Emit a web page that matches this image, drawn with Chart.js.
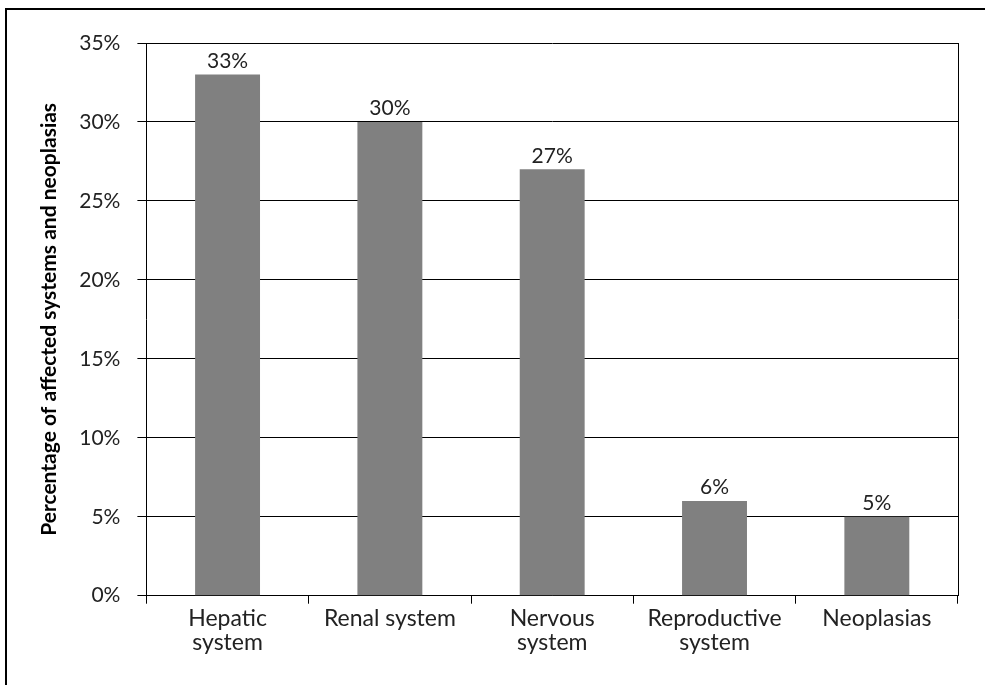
<!DOCTYPE html>
<html>
<head>
<meta charset="utf-8">
<script src="https://cdn.jsdelivr.net/npm/chart.js@4/dist/chart.umd.min.js"></script>
<style>
  html, body { margin: 0; padding: 0; background: #fff; overflow: hidden; }
  #wrap { position: relative; width: 985px; height: 685px; }
  #frame { position: absolute; left: 5px; top: 8px; width: 1000px; height: 1000px;
           border: 2px solid #000; pointer-events: none; }
</style>
</head>
<body>
<div id="wrap">
  <canvas id="myChart" width="985" height="685"></canvas>
  <div id="frame"></div>
</div>
<script>
const categories = [['Hepatic', 'system'], 'Renal system', ['Nervous', 'system'], ['Reproductive', 'system'], 'Neoplasias'];
const values = [33, 30, 27, 6, 5];
const yTicks = [0, 5, 10, 15, 20, 25, 30, 35];

const font = 'Lato, "Open Sans", sans-serif';

// labels over bars
const barLabels = {
    id: 'barLabels',
    afterDatasetsDraw(chart) {
        const ctx = chart.ctx;
        const meta = chart.getDatasetMeta(0);
        ctx.save();
        ctx.fillStyle = '#222';
        ctx.font = '21px ' + font;
        ctx.textAlign = 'center';
        ctx.textBaseline = 'bottom';
        meta.data.forEach((bar, i) => {
            ctx.fillText(values[i] + '%', bar.x, bar.y - 3);
        });
        ctx.restore();
    }
};

// right edge of plot area
const plotEdge = {
    id: 'plotEdge',
    afterDraw(chart) {
        const a = chart.chartArea;
        const ctx = chart.ctx;
        ctx.save();
        ctx.strokeStyle = '#000';
        ctx.lineWidth = 1;
        ctx.beginPath();
        ctx.moveTo(Math.round(a.right) + 0.5, a.top);
        ctx.lineTo(Math.round(a.right) + 0.5, a.bottom);
        ctx.stroke();
        ctx.restore();
    }
};

const ctx = document.getElementById('myChart').getContext('2d');
const chart = new Chart(ctx, {
    type: 'bar',
    data: {
        labels: categories,
        datasets: [{
            data: values,
            backgroundColor: '#808080',
            borderWidth: 0,
            categoryPercentage: 1,
            barPercentage: 0.4
        }]
    },
    options: {
        responsive: false,
        animation: false,
        layout: { padding: { left: 37, top: 43, right: 27, bottom: 27 } },
        plugins: { legend: { display: false }, tooltip: { enabled: false } },
        scales: {
            x: {
                grid: { display: true, drawOnChartArea: false, offset: true, color: '#000', tickLength: 8 },
                border: { color: '#000' },
                ticks: { color: '#222', font: { family: font, size: 23, lineHeight: 1.05 }, padding: 3, maxRotation: 0 }
            },
            y: {
                min: 0,
                max: 35,
                afterBuildTicks(axis) { axis.ticks = yTicks.map(v => ({ value: v })); },
                grid: { color: '#000', tickLength: 9 },
                border: { color: '#000' },
                ticks: { color: '#222', font: { family: font, size: 21 }, padding: 17,
                         callback: v => v + '%' },
                title: { display: true, text: 'Percentage of affected systems and neoplasias',
                         color: '#000', font: { family: font, size: 21, weight: 'bold' }, padding: 0 }
            }
        }
    },
    plugins: [barLabels, plotEdge]
});
</script>
</body>
</html>
